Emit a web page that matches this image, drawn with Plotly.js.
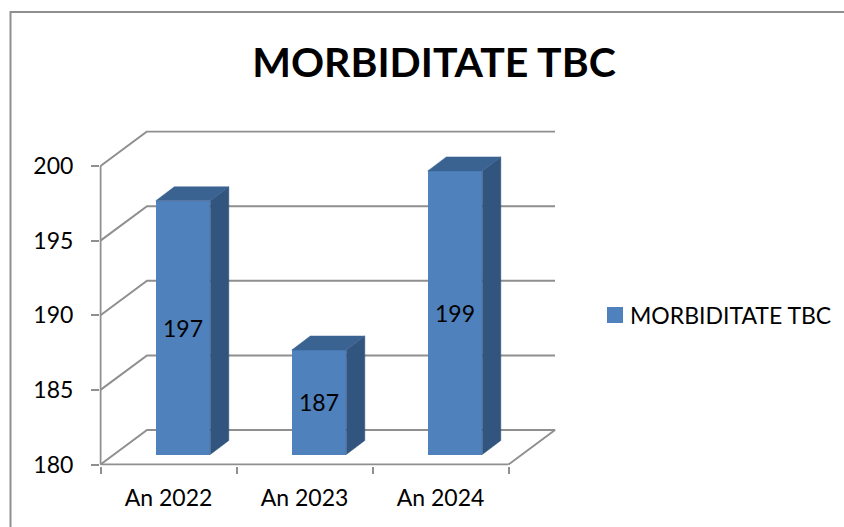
<!DOCTYPE html>
<html>
<head>
<meta charset="utf-8">
<script src="https://cdn.plot.ly/plotly-3.0.1.min.js"></script>
<style>html,body{margin:0;padding:0;background:#fff}#c{width:844px;height:527px}</style>
</head>
<body>
<div id="c"></div>
<script>
const categories = ["An 2022", "An 2023", "An 2024"];
const values = [197, 187, 199];
const seriesName = "MORBIDITATE TBC";
const titleText = "MORBIDITATE TBC";
const yTicks = [180, 185, 190, 195, 200];

const W = 844, H = 527;
const front = {l: 100.5, r: 508.5, t: 166, b: 464.5};   // front plane of the 3D box, px
const wallPx = {dx: 46.5, dy: 34.5}, barPx = {dx: 18.5, dy: 14};
const pad = 1;
const pxPerCat = (front.r - front.l) / categories.length;
const pxPerVal = (front.b - front.t) / (yTicks[yTicks.length - 1] - yTicks[0]);
const font = "Lato, 'Open Sans', sans-serif";
const grey = "#8f8f8f";
const idx = categories.map((_, i) => i);
const yMin = yTicks[0], yMax = yTicks[yTicks.length - 1];

// 3D projection helpers, in axis units
const wallDx = wallPx.dx / pxPerCat, wallDy = wallPx.dy / pxPerVal;
const barDx = barPx.dx / pxPerCat, barDy = barPx.dy / pxPerVal;
const barOffset = -12.7 / pxPerCat, barWidth = 54.5 / pxPerCat;
const lift = 10 / pxPerVal;
const xMin = -0.5, xMax = categories.length - 0.5;
const xPad = pad / pxPerCat, yPad = pad / pxPerVal;
const xDomain = [(front.l - pad) / W, (front.r + wallPx.dx + pad) / W];
const yDomain = [(H - front.b - pad) / H, (H - front.t + wallPx.dy + pad) / H];
const yRange = [yMin - yPad, yMax + wallDy + yPad];

const traces = [];
const lineTrace = (x, y, width) => ({
  type: "scatter", mode: "lines", xaxis: "x", yaxis: "y", showlegend: false, hoverinfo: "skip",
  x, y, line: {color: grey, width}
});
// back wall and floor lines
yTicks.forEach(v => {
  const floor = v === yMin;
  traces.push(lineTrace(
    floor ? [xMin, xMin + wallDx, xMax + wallDx, xMax] : [xMin, xMin + wallDx, xMax + wallDx],
    floor ? [v, v + wallDy, v + wallDy, v] : [v, v + wallDy, v + wallDy], 2));
});
// axis lines of the front plane
traces.push(lineTrace([xMin, xMin], [yMin, yMax], 2));
traces.push(lineTrace([xMin, xMax], [yMin, yMin], 2));
// front faces
traces.push({
  type: "bar", xaxis: "x", yaxis: "y2", x: idx, y: values.map(v => v - yMin), base: yMin,
  offset: barOffset, width: barWidth, showlegend: false,
  marker: {color: "#4f81bd", line: {width: 0}},
  text: values.map(String), textposition: "inside", insidetextanchor: "middle",
  textangle: 0, constraintext: "none",
  textfont: {family: font, size: 23, color: "#000"}, hoverinfo: "skip"
});
// side and top faces
values.forEach((v, i) => {
  const L = i + barOffset, R = L + barWidth, B = yMin;
  traces.push({
    type: "scatter", mode: "lines", fill: "toself", fillcolor: "#32557f",
    xaxis: "x", yaxis: "y2", showlegend: false, hoverinfo: "skip",
    x: [R, R + barDx, R + barDx, R, R], y: [v, v + barDy, B + barDy, B, v],
    line: {color: "#32557f", width: 0.5}
  });
  traces.push({
    type: "scatter", mode: "lines", fill: "toself", fillcolor: "#3b6392",
    xaxis: "x", yaxis: "y2", showlegend: false, hoverinfo: "skip",
    x: [L, L + barDx, R + barDx, R, L], y: [v, v + barDy, v + barDy, v, v],
    line: {color: "#3b6392", width: 0.5}
  });
});
// legend entry
traces.push({
  type: "scatter", mode: "markers", xaxis: "x", yaxis: "y", name: seriesName,
  x: [null], y: [null], showlegend: true,
  marker: {symbol: "square", size: 16, color: "#4f81bd"}
});

const layout = {
  width: W, height: H, autosize: false,
  margin: {l: 0, r: 0, t: 0, b: 0},
  paper_bgcolor: "#fff", plot_bgcolor: "rgba(0,0,0,0)",
  font: {family: font, size: 22, color: "#000"},
  title: {text: "<b>" + titleText + "</b>", x: 434 / W, xanchor: "center",
          y: 1 - 62.5 / H, yanchor: "middle", yref: "container",
          font: {family: font, size: 41, color: "#000"}},
  xaxis: {
    type: "linear", domain: xDomain, range: [xMin - xPad, xMax + wallDx + xPad],
    tickmode: "array", tickvals: idx, ticktext: categories, ticks: "",
    tickfont: {family: font, size: 23, color: "#000"}, ticklabelstandoff: 16,
    showgrid: false, zeroline: false, showline: false,
    minor: {tickmode: "array", tickvals: [xMin, 0.5, 1.5, xMax], ticks: "outside",
            ticklen: 7, tickwidth: 2, tickcolor: grey, showgrid: false},
    fixedrange: true
  },
  yaxis: {
    domain: yDomain, range: yRange,
    tickmode: "array", tickvals: yTicks, ticks: "outside", ticklen: 7.5, tickwidth: 2, tickcolor: grey,
    tickfont: {family: font, size: 23, color: "#000"}, ticklabelstandoff: 13,
    showgrid: false, zeroline: false, showline: false,
    fixedrange: true
  },
  yaxis2: {
    overlaying: "y", anchor: "x", visible: false, fixedrange: true,
    domain: yDomain, range: [yRange[0] - lift, yRange[1] - lift]
  },
  legend: {
    x: 590 / W, y: 1 - 315 / H, xanchor: "left", yanchor: "middle",
    font: {family: font, size: 23, color: "#000"}, bgcolor: "rgba(0,0,0,0)",
    itemwidth: 30, borderwidth: 0
  },
  shapes: [{
    type: "path", xref: "paper", yref: "paper", layer: "below",
    path: `M ${10.5 / W} 0 L ${10.5 / W} ${1 - 12 / H} L 1 ${1 - 12 / H}`,
    line: {color: grey, width: 2}
  }],
  bargap: 0
};
Plotly.newPlot("c", traces, layout, {displayModeBar: false, staticPlot: true}).then(gd => {
  // nudge the legend swatch closer to its label
  gd.querySelectorAll(".legendsymbols").forEach(n => n.setAttribute("transform", "translate(5,0)"));
});
</script>
</body>
</html>
